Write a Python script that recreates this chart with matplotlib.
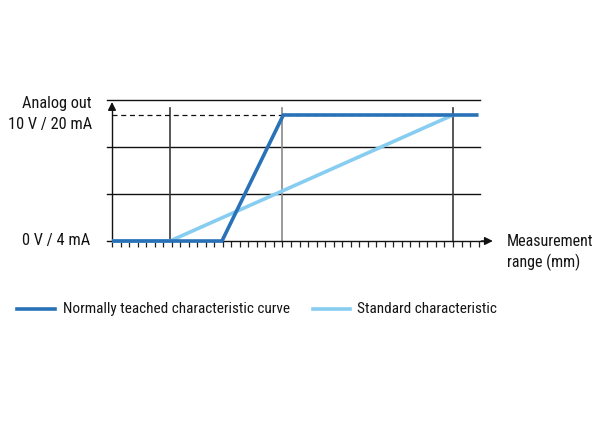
import matplotlib
matplotlib.use("Agg")
import matplotlib.pyplot as plt

plt.rcParams['font.family'] = ['Roboto Condensed', 'Liberation Sans Narrow', 'Lato', 'DejaVu Sans']

# data (x in tick steps, y in output units, 0 = 0 V / 4 mA, 10 = 10 V / 20 mA)
teached_x = [0, 12.9, 20.1, 43.0]
teached_y = [0, 0, 10, 10]
standard_x = [0, 6.8, 40.0]
standard_y = [0, 0, 10]
grid_y = [3.73, 7.46, 11.19]
vlines_x = [6.8, 20.0, 40.0]
vline_colors = ['#3a3a3a', '#8a8a8a', '#3a3a3a']
n_ticks = 44

dark_blue = '#2a72b8'
light_blue = '#86cdf0'

fig = plt.figure(figsize=(6, 4.4), dpi=100)
W, H = 600, 440
ax = fig.add_axes([112 / W, (H - 241) / H, 368 / W, 141 / H])
ax.set_xlim(0, 43.17)
ax.set_ylim(0, 11.19)
for s in ax.spines.values():
    s.set_visible(False)
ax.set_yticks([])
ax.set_xticks(range(n_ticks))
ax.tick_params(axis='x', direction='out', length=4, width=0.9, color='#222222', labelbottom=False)
ax.patch.set_alpha(0)

# grid
for gy in grid_y:
    ax.plot([-0.6, 43.17], [gy, gy], color='#111111', lw=1.0, clip_on=False, zorder=1)
for vx, vc in zip(vlines_x, vline_colors):
    ax.plot([vx, vx], [0, 10.56], color=vc, lw=1.2, clip_on=False, zorder=1)

# dashed 10 V line
ax.plot([0, 40], [10, 10], color='#111111', lw=0.9, ls=(0, (4, 3)), zorder=1)

# axes with arrows
ax.plot([-0.6, 43.6], [0, 0], color='#111111', lw=1.0, clip_on=False, zorder=2)
ax.annotate('', xy=(45.0, 0), xytext=(43.0, 0), xycoords='data',
            arrowprops=dict(arrowstyle='-|>', color='#111111', lw=1.0, mutation_scale=12),
            annotation_clip=False)
ax.plot([0, 0], [0, 10.4], color='#111111', lw=1.0, clip_on=False, zorder=2)
ax.annotate('', xy=(0, 11.25), xytext=(0, 10.3), xycoords='data',
            arrowprops=dict(arrowstyle='-|>', color='#111111', lw=1.0, mutation_scale=12),
            annotation_clip=False)

# curves
ax.plot(standard_x, standard_y, color=light_blue, lw=2.6, solid_capstyle='butt', clip_on=False, zorder=3)
ax.plot(teached_x, teached_y, color=dark_blue, lw=2.6, solid_capstyle='butt',
        solid_joinstyle='miter', clip_on=False, zorder=4)

# labels
fs = 11
fs_axis = 11.8
tc = '#141414'
fig.text(92 / W, 1 - 103 / H, 'Analog out', ha='right', va='center', fontsize=fs_axis, color=tc)
fig.text(92 / W, 1 - 124 / H, '10 V / 20 mA', ha='right', va='center', fontsize=fs_axis, color=tc)
fig.text(90 / W, 1 - 240 / H, '0 V / 4 mA', ha='right', va='center', fontsize=fs_axis, color=tc)
fig.text(507 / W, 1 - 241 / H, 'Measurement', ha='left', va='center', fontsize=11.5, color=tc)
fig.text(507 / W, 1 - 262 / H, 'range (mm)', ha='left', va='center', fontsize=11.5, color=tc)

# legend
fig.lines.append(plt.Line2D([17 / W, 55 / W], [1 - 309 / H, 1 - 309 / H], color=dark_blue, lw=2.6,
                            transform=fig.transFigure))
fig.text(63 / W, 1 - 309 / H, 'Normally teached characteristic curve', ha='left', va='center',
         fontsize=fs, color=tc)
fig.lines.append(plt.Line2D([313 / W, 350 / W], [1 - 309 / H, 1 - 309 / H], color=light_blue, lw=2.6,
                            transform=fig.transFigure))
fig.text(357 / W, 1 - 309 / H, 'Standard characteristic', ha='left', va='center',
         fontsize=fs, color=tc)

fig.savefig('out.png', dpi=100)
